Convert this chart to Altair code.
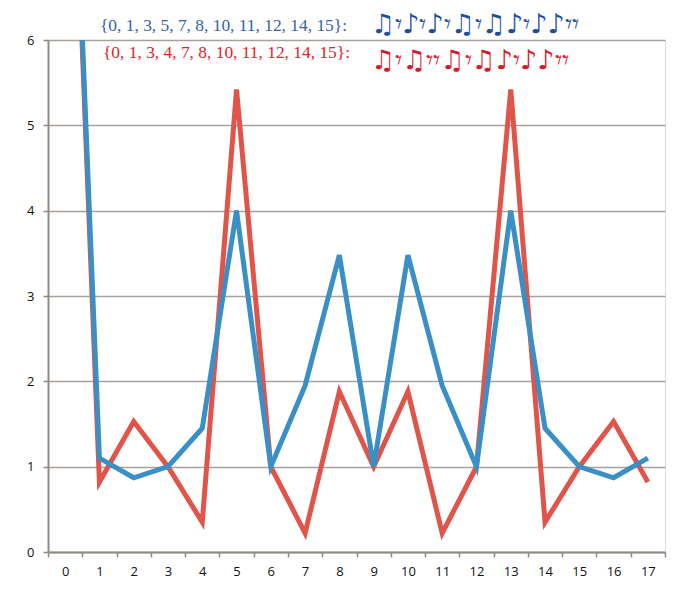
import altair as alt
import pandas as pd

x_cats = list(range(18))
blue_vals = [11.0, 1.10, 0.87, 1.00, 1.45, 4.00, 1.00, 1.95, 3.48, 1.00, 3.48, 1.95, 1.00, 4.00, 1.45, 1.00, 0.87, 1.10]
red_vals = [11.0, 0.82, 1.53, 1.00, 0.35, 5.42, 1.00, 0.22, 1.88, 1.00, 1.88, 0.22, 1.00, 5.42, 0.35, 1.00, 1.53, 0.82]
series_names = ["red", "blue"]
legend_sets = ["{0, 1, 3, 5, 7, 8, 10, 11, 12, 14, 15}:", "{0, 1, 3, 4, 7, 8, 10, 11, 12, 14, 15}:"]
R = "\U0001D13E"
legend_notes = [
    "\u266B" + R + "\u266A" + R + "\u266A" + R + "\u266B" + R + "\u266B\u266A" + R + "\u266A\u266A" + R + R,
    "\u266B" + R + "\u266B" + R + R + "\u266B" + R + "\u266B\u266A" + R + "\u266A\u266A" + R + R,
]

rows = []
for s, vals in zip(series_names, [red_vals, blue_vals]):
    for xc, v in zip(x_cats, vals):
        rows.append({"x": xc, "y": v, "series": s})
df = pd.DataFrame(rows)

W, H = 617, 512

base = alt.Chart(df)
lines = base.mark_line(strokeWidth=5, clip=True, strokeJoin="miter").encode(
    x=alt.X("x:O", scale=alt.Scale(type="band", paddingInner=0, paddingOuter=0),
            axis=alt.Axis(title=None, labelAngle=0, tickBand="extent", grid=False,
                          labelFont="Open Sans", labelFontSize=13, labelColor="#111",
                          domainColor="#8f8a84", domainWidth=2, tickColor="#8f8a84",
                          tickWidth=1.5, tickSize=5, labelPadding=8)),
    y=alt.Y("y:Q", scale=alt.Scale(domain=[0, 6], nice=False, zero=True),
            axis=alt.Axis(title=None, values=[0, 1, 2, 3, 4, 5, 6], grid=True,
                          gridColor="#a7a29c", gridWidth=1.5,
                          labelFont="Open Sans", labelFontSize=13, labelColor="#111",
                          domainColor="#8f8a84", domainWidth=2, tickColor="#8f8a84",
                          tickWidth=1.5, tickSize=5, labelPadding=9)),
    color=alt.Color("series:N", scale=alt.Scale(domain=["red", "blue"], range=["#e0544a", "#3a8fc7"]), legend=None),
    order=alt.Order("series:N", sort="descending"),
)

leg_df = pd.DataFrame({"label": legend_sets, "notes": legend_notes, "row": [0, 1]})

set_blue = alt.Chart(leg_df.iloc[[0]]).mark_text(
    align="left", baseline="alphabetic", font="Liberation Serif", fontSize=17.4, color="#3465a4"
).encode(text="label:N", x=alt.value(52), y=alt.value(-9))
set_red = alt.Chart(leg_df.iloc[[1]]).mark_text(
    align="left", baseline="alphabetic", font="Liberation Serif", fontSize=17.4, color="#e8202a"
).encode(text="label:N", x=alt.value(55), y=alt.value(18))
notes_blue = alt.Chart(leg_df.iloc[[0]]).mark_text(
    align="left", baseline="alphabetic", font="DejaVu Sans", fontSize=27, color="#1f4e9a"
).encode(text="notes:N", x=alt.value(323), y=alt.value(-7))
notes_red = alt.Chart(leg_df.iloc[[1]]).mark_text(
    align="left", baseline="alphabetic", font="DejaVu Sans", fontSize=27, color="#d7192a"
).encode(text="notes:N", x=alt.value(323), y=alt.value(29))

chart = alt.layer(lines, set_blue, set_red, notes_blue, notes_red).properties(
    width=W, height=H, autosize="none",
    padding={"left": 40, "top": 32, "right": 20, "bottom": 40},
).configure_view(stroke=None).configure(background="white")

chart.save("out.html", embed_options={"renderer": "svg", "actions": False})
